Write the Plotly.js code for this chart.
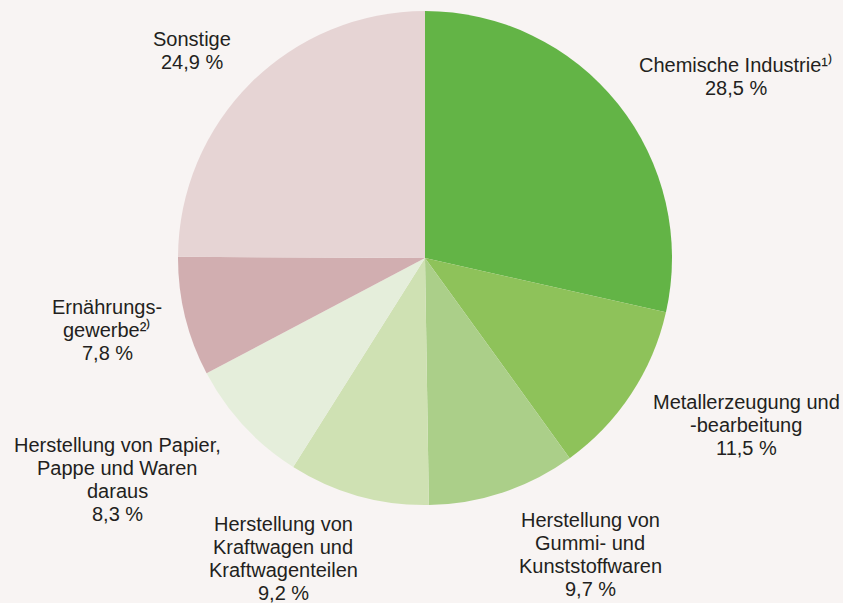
<!DOCTYPE html>
<html>
<head>
<meta charset="utf-8">
<script src="https://cdn.plot.ly/plotly-3.0.1.min.js"></script>
<style>html,body{margin:0;padding:0;background:#f8f4f3;}#chart{width:843px;height:603px;}</style>
</head>
<body>
<div id="chart"></div>
<script>
const categories = [
  "Chemische Industrie",
  "Metallerzeugung und -bearbeitung",
  "Herstellung von Gummi- und Kunststoffwaren",
  "Herstellung von Kraftwagen und Kraftwagenteilen",
  "Herstellung von Papier, Pappe und Waren daraus",
  "Ernährungsgewerbe",
  "Sonstige"
];
const shares = [28.5, 11.5, 9.7, 9.2, 8.3, 7.8, 24.9];
const colors = ["#63b446", "#8ec25a", "#abcf89", "#cfe1b3", "#e5eedb", "#d1aeb0", "#e6d4d4"];
const labelLines = [
  ["Chemische Industrie¹⁾", "28,5 %"],
  ["Metallerzeugung und", "-bearbeitung", "11,5 %"],
  ["Herstellung von", "Gummi- und", "Kunststoffwaren", "9,7 %"],
  ["Herstellung von", "Kraftwagen und", "Kraftwagenteilen", "9,2 %"],
  ["Herstellung von Papier,", "Pappe und Waren", "daraus", "8,3 %"],
  ["Ernährungs-", "gewerbe²⁾", "7,8 %"],
  ["Sonstige", "24,9 %"]
];
// label anchor positions (pixel centre of first line) and line step
const labelPos = [[736, 65], [746, 402], [590, 520], [283, 524], [117, 445], [107, 307], [192, 39]];
const lineStep = 23;

const W = 843, H = 603;
const annotations = [];
labelLines.forEach((lines, i) => {
  lines.forEach((t, j) => {
    annotations.push({
      xref: "paper", yref: "paper",
      x: labelPos[i][0] / W,
      y: 1 - (labelPos[i][1] + j * lineStep) / H,
      xanchor: "center", yanchor: "middle",
      text: t, showarrow: false,
      font: {family: "Liberation Sans, Arial, sans-serif", size: 20, color: "#231f20"}
    });
  });
});

const cx = 425, cy = 258, r = 247;
const data = [{
  type: "pie",
  labels: categories,
  values: shares,
  sort: false,
  direction: "clockwise",
  rotation: 0,
  textinfo: "none",
  hoverinfo: "label+value",
  showlegend: false,
  marker: {
    colors: colors,
    line: {width: 0}
  },
  domain: {
    x: [(cx - r) / W, (cx + r) / W],
    y: [1 - (cy + r) / H, 1 - (cy - r) / H]
  }
}];

const layout = {
  width: W, height: H,
  margin: {l: 0, r: 0, t: 0, b: 0},
  paper_bgcolor: "#f8f4f3",
  plot_bgcolor: "#f8f4f3",
  showlegend: false,
  annotations: annotations
};
Plotly.newPlot("chart", data, layout, {displayModeBar: false, staticPlot: true});
</script>
</body>
</html>
